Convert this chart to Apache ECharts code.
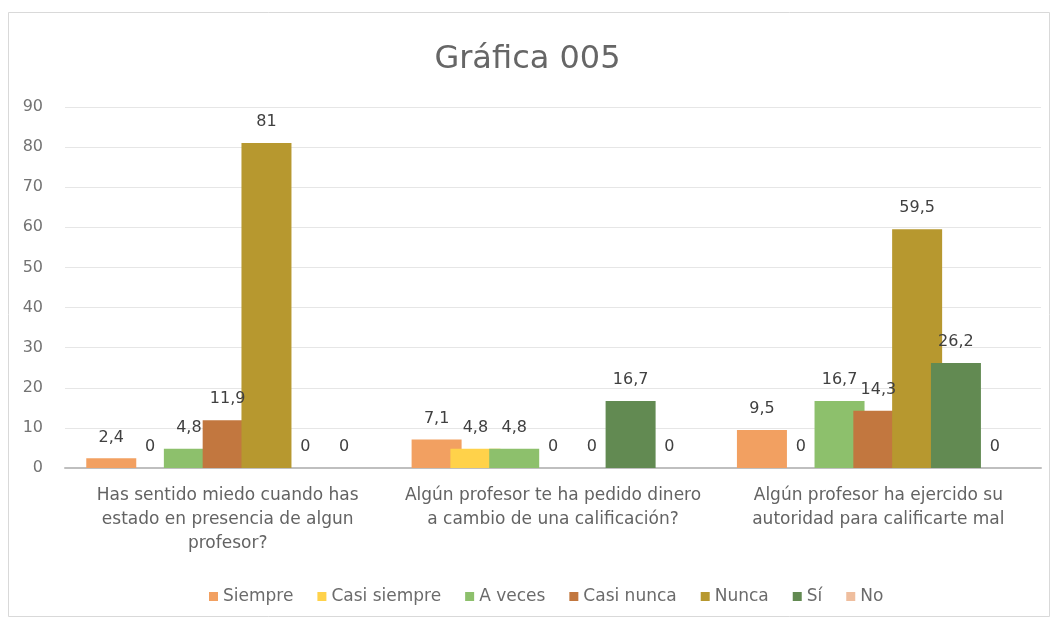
<!DOCTYPE html>
<html>
<head>
<meta charset="utf-8">
<script src="https://cdn.jsdelivr.net/npm/echarts@6/dist/echarts.min.js"></script>
<style>html,body{margin:0;padding:0;background:#fff;}#c{width:1055px;height:621px;}</style>
</head>
<body>
<div id="c"></div>
<script>
const categories = [
  "Has sentido miedo cuando has\nestado en presencia de algun\nprofesor?",
  "Algún profesor te ha pedido dinero\na cambio de una calificación?",
  "Algún profesor ha ejercido su\nautoridad para calificarte mal"
];
const seriesNames = ["Siempre", "Casi siempre", "A veces", "Casi nunca", "Nunca", "Sí", "No"];
const siempre = [2.4, 7.1, 9.5];
const casiSiempre = [0, 4.8, 0];
const aVeces = [4.8, 4.8, 16.7];
const casiNunca = [11.9, 0, 14.3];
const nunca = [81, 0, 59.5];
const si = [0, 16.7, 26.2];
const no = [0, 0, 0];
const yTicks = [0, 90, 10];

const seriesData = [siempre, casiSiempre, aVeces, casiNunca, nunca, si, no];
const colors = ['#F2A061', '#FFD24A', '#8DC06C', '#C2773F', '#B7982F', '#628A52', '#EFBE9E'];
const font = "'DejaVu Sans', 'Noto Sans', sans-serif";

const chart = echarts.init(document.getElementById('c'), null, {renderer: 'canvas'});
chart.setOption({
  animation: false,
  backgroundColor: '#ffffff',
  color: colors,
  graphic: [{
    type: 'rect', z: -10, silent: true,
    shape: {x: 8.5, y: 12.5, width: 1041, height: 604},
    style: {fill: 'none', stroke: '#d9d9d9', lineWidth: 1}
  }],
  title: {
    text: 'Gráfica 005', left: 'center', top: 39,
    textStyle: {fontFamily: font, fontSize: 32, fontWeight: 'normal', color: '#666666'}
  },
  legend: {
    bottom: 11, left: 204, icon: 'rect', itemWidth: 9, itemHeight: 9, itemGap: 24,
    textStyle: {fontFamily: font, fontSize: 17, color: '#6b6b6b'},
    data: seriesNames
  },
  grid: {left: 65, right: 14, top: 107, bottom: 153},
  xAxis: {
    type: 'category', data: categories,
    axisLine: {lineStyle: {color: '#bfbfbf', width: 2}},
    axisTick: {show: false},
    axisLabel: {fontFamily: font, fontSize: 17, color: '#636363', lineHeight: 24, margin: 16, interval: 0}
  },
  yAxis: {
    type: 'value', min: yTicks[0], max: yTicks[1], interval: yTicks[2],
    axisLine: {show: false}, axisTick: {show: false},
    axisLabel: {fontFamily: font, fontSize: 16, color: '#737373', margin: 22},
    splitLine: {lineStyle: {color: '#e6e6e6', width: 1}}
  },
  series: seriesNames.map((n, i) => ({
    name: n, type: 'bar', data: seriesData[i],
    barWidth: 50, barGap: '-22.4%',
    label: {
      show: true, position: 'top', distance: 13,
      fontFamily: font, fontSize: 16, color: '#404040',
      formatter: p => String(p.value).replace('.', ',')
    }
  }))
});
</script>
</body>
</html>
